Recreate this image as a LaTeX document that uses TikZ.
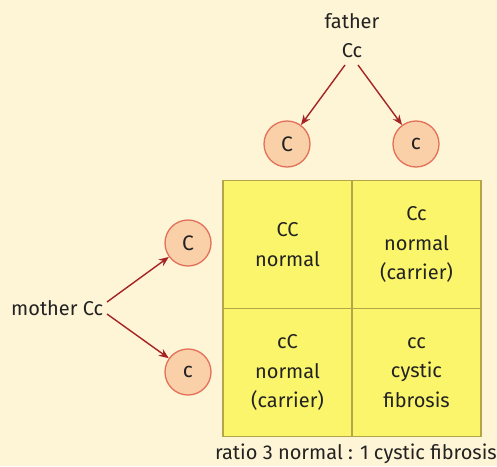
\documentclass[tikz,border=0pt]{standalone}
\usepackage{fontspec}
\setmainfont{Fira Sans}
\usetikzlibrary{arrows.meta}
\definecolor{bg}{HTML}{FEF4D6}
\definecolor{cellfill}{HTML}{FAF56A}
\definecolor{cellline}{HTML}{B4A648}
\definecolor{gfill}{HTML}{FAD0A8}
\definecolor{gline}{HTML}{E2705A}
\definecolor{arr}{HTML}{A42424}
\definecolor{txt}{HTML}{222222}
\tikzset{
  gamete/.style={circle, draw=gline, fill=gfill, line width=1.3pt, minimum size=46pt, inner sep=0pt, font=\fontsize{21}{21}\selectfont, text=txt},
  cell/.style={rectangle, draw=cellline, fill=cellfill, line width=1.2pt, minimum width=129pt, minimum height=128pt, inner sep=0pt, align=center, font=\fontsize{20}{29.5}\selectfont, text=txt},
  lbl/.style={font=\fontsize{20}{29}\selectfont, text=txt, align=center, inner sep=1pt},
  arrowline/.style={draw=arr, line width=1.4pt, -{Stealth[length=10pt,width=8pt]}}
}
\begin{document}
\begin{tikzpicture}[x=1pt,y=-1pt]
\fill[bg] (0,0) rectangle (497,466);
\useasboundingbox (0,0) rectangle (497,466);
% grid
\node[cell] (tl) at (287.5,244.5) {CC\\normal};
\node[cell] (tr) at (416.5,244.5) {Cc\\normal\\(carrier)};
\node[cell] (bl) at (287.5,372.5) {cC\\normal\\(carrier)};
\node[cell] (br) at (416.5,372.5) {cc\\cystic\\fibrosis};
% gametes
\node[gamete] (fC) at (287,144) {C};
\node[gamete] (fc) at (416,144) {c};
\node[gamete] (mC) at (188,243) {C};
\node[gamete] (mc) at (188,372) {c};
% parents
\node[lbl] (father) at (352,36) {father\\Cc};
\node[lbl, anchor=west] (mother) at (10,308) {mother Cc};
\coordinate (fa1) at (345,65);
\coordinate (fa2) at (358,65);
\coordinate (mo1) at (107,302);
\coordinate (mo2) at (107,314);
\draw[arrowline] (fa1) -- (fC);
\draw[arrowline] (fa2) -- (fc);
\draw[arrowline] (mo1) -- (mC);
\draw[arrowline] (mo2) -- (mc);
% ratio
\node[lbl, anchor=east] (ratio) at (498,454) {ratio 3 normal : 1 cystic fibrosis};
\end{tikzpicture}
\end{document}
